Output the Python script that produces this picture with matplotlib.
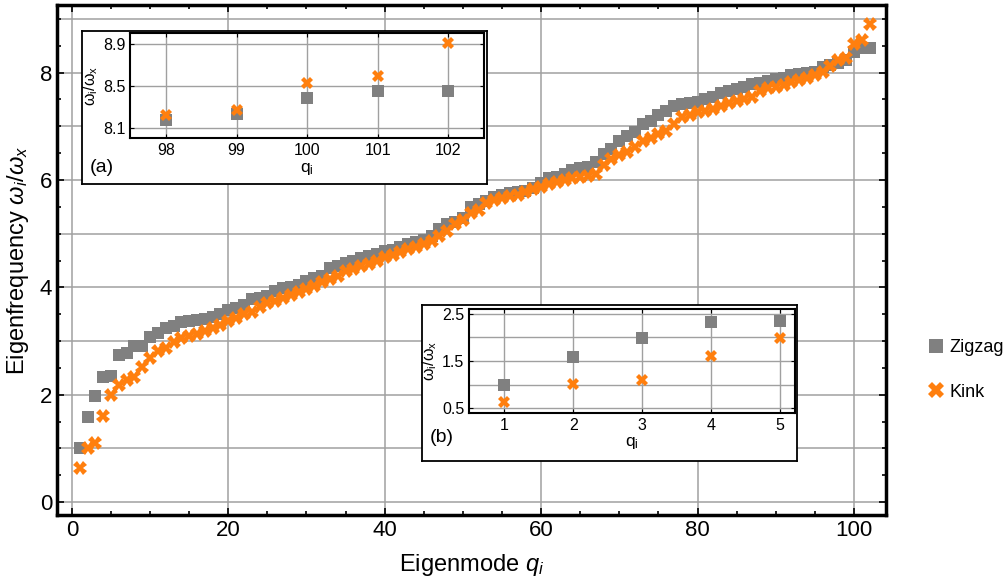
import matplotlib
matplotlib.use("Agg")
import matplotlib.pyplot as plt
from matplotlib.lines import Line2D
import numpy as np

plt.rcParams['font.family'] = ['Liberation Sans', 'DejaVu Sans']
plt.rcParams['mathtext.fontset'] = 'custom'
plt.rcParams['mathtext.rm'] = 'Liberation Sans'
plt.rcParams['mathtext.it'] = 'Liberation Sans:italic'

# eigenfrequencies (omega_i / omega_x), modes 1..102
zigzag = [1.00, 1.59, 1.98, 2.33, 2.35, 2.74, 2.77, 2.90, 2.91, 3.08,
          3.15, 3.24, 3.28, 3.36, 3.38, 3.40, 3.42, 3.45, 3.50, 3.58,
          3.62, 3.68, 3.78, 3.80, 3.84, 3.94, 3.98, 4.00, 4.05, 4.12,
          4.18, 4.22, 4.36, 4.40, 4.45, 4.50, 4.55, 4.58, 4.62, 4.67,
          4.70, 4.75, 4.80, 4.85, 4.88, 4.95, 5.08, 5.18, 5.22, 5.30,
          5.50, 5.56, 5.60, 5.68, 5.72, 5.75, 5.78, 5.80, 5.85, 5.95,
          6.03, 6.06, 6.12, 6.18, 6.22, 6.25, 6.33, 6.48, 6.58, 6.72,
          6.82, 6.90, 7.05, 7.10, 7.22, 7.28, 7.38, 7.42, 7.44, 7.46,
          7.50, 7.55, 7.62, 7.66, 7.70, 7.74, 7.78, 7.80, 7.84, 7.88,
          7.90, 7.95, 7.97, 7.99, 8.02, 8.10, 8.14, 8.18, 8.24, 8.39,
          8.45, 8.45]
kink = [0.64, 1.01, 1.10, 1.61, 1.99, 2.18, 2.28, 2.33, 2.52, 2.68,
        2.82, 2.87, 2.98, 3.05, 3.10, 3.14, 3.18, 3.24, 3.30, 3.38,
        3.43, 3.50, 3.55, 3.63, 3.70, 3.74, 3.80, 3.86, 3.92, 3.97,
        4.03, 4.10, 4.16, 4.22, 4.30, 4.35, 4.40, 4.43, 4.50, 4.56,
        4.60, 4.65, 4.72, 4.76, 4.80, 4.86, 4.95, 5.05, 5.18, 5.25,
        5.38, 5.45, 5.58, 5.62, 5.66, 5.70, 5.72, 5.78, 5.83, 5.87,
        5.92, 5.96, 6.00, 6.03, 6.06, 6.08, 6.12, 6.28, 6.40, 6.47,
        6.52, 6.62, 6.72, 6.78, 6.85, 6.92, 7.05, 7.18, 7.22, 7.27,
        7.29, 7.32, 7.38, 7.44, 7.48, 7.50, 7.55, 7.65, 7.71, 7.74,
        7.77, 7.82, 7.86, 7.90, 7.96, 8.02, 8.12, 8.23, 8.27, 8.53,
        8.60, 8.91]
modes = np.arange(1, len(zigzag) + 1)

GRAY = '#808080'
ORANGE = '#ff7f0e'
GRID = '#a0a0a0'

fig = plt.figure(figsize=(10.04, 5.85), dpi=100)

# main panel
ax = fig.add_axes([57/1004, 1-515/585, 829/1004, 510/585])
ax.plot(modes, zigzag, 's', color=GRAY, ms=8.5, mew=0, zorder=3)
ax.plot(modes, kink, 'X', color=ORANGE, ms=9.5, mew=0, zorder=4)
ax.set_xlim(-1.9, 104.1)
ax.set_ylim(-0.24, 9.26)
ax.set_xticks([0, 20, 40, 60, 80, 100])
ax.set_xticks(np.arange(0, 105, 5), minor=True)
ax.set_yticks([0, 2, 4, 6, 8])
ax.set_yticks(np.arange(0, 9.5, 0.5), minor=True)
ax.set_axisbelow(True)
for v in range(0, 10):
    ax.axhline(v, color=GRID, lw=1.1, zorder=0)
for v in range(0, 101, 20):
    ax.axvline(v, color=GRID, lw=1.1, zorder=0)
ax.tick_params(which='both', direction='in', top=True, right=True, labelsize=16, width=1.2)
ax.tick_params(which='major', length=5)
ax.tick_params(which='minor', length=3)
for s in ax.spines.values():
    s.set_linewidth(2.5)
ax.set_xlabel('Eigenmode $q_i$', fontsize=17, labelpad=8)
ax.set_ylabel('Eigenfrequency $\\omega_i/\\omega_x$', fontsize=17, labelpad=6)

handles = [Line2D([], [], ls='', marker='s', color=GRAY, ms=10, mew=0),
           Line2D([], [], ls='', marker='X', color=ORANGE, ms=11, mew=0)]
fig.legend(handles, ['Zigzag', 'Kink'], loc='center left',
           bbox_to_anchor=(926/1004, 1-370/585), frameon=False,
           borderpad=0, borderaxespad=0,
           fontsize=13, labelspacing=1.5, handletextpad=0.2, handlelength=1.1)


def inset(box, inner, lo, hi, xlim, ylim, xt, yt, ygrid, tag, tagpos):
    bg = fig.add_axes(box)
    bg.set_xticks([])
    bg.set_yticks([])
    bg.set_facecolor('white')
    for s in bg.spines.values():
        s.set_linewidth(1.3)
    a = fig.add_axes(inner)
    q = modes[lo:hi]
    a.plot(q, zigzag[lo:hi], 's', color=GRAY, ms=9, mew=0, zorder=3)
    a.plot(q, kink[lo:hi], 'X', color=ORANGE, ms=9, mew=0, zorder=4)
    a.set_xlim(*xlim)
    a.set_ylim(*ylim)
    a.set_xticks(xt)
    a.set_yticks(yt)
    for v in xt:
        a.axvline(v, color=GRID, lw=1.0, zorder=0)
    for v in ygrid:
        a.axhline(v, color=GRID, lw=1.0, zorder=0)
    a.tick_params(direction='in', top=True, right=True, length=3, labelsize=11.5)
    for s in a.spines.values():
        s.set_linewidth(1.5)
    a.set_xlabel('$\\mathregular{q_i}$', fontsize=12.5, labelpad=2)
    a.set_ylabel('$\\mathregular{\\omega_i/\\omega_x}$', fontsize=11.5, labelpad=2)
    bg.text(tagpos[0], tagpos[1], tag, transform=bg.transAxes, fontsize=14,
            ha='left', va='center')
    return a


inset([82/1004, 1-184/585, 405/1004, 153/585],
      [130/1004, 1-138.3/585, 354.3/1004, 105/585],
      97, 102, (97.49, 102.51), (8.005, 9.0),
      [98, 99, 100, 101, 102], [8.1, 8.5, 8.9], [8.1, 8.5, 8.9],
      '(a)', (0.02, 0.11))

inset([422/1004, 1-461/585, 375/1004, 156/585],
      [469.3/1004, 1-412.7/585, 326/1004, 103.4/585],
      0, 5, (0.49, 5.22), (0.41, 2.59),
      [1, 2, 3, 4, 5], [0.5, 1.5, 2.5], [0.5, 1.0, 1.5, 2.0, 2.5],
      '(b)', (0.02, 0.15))

fig.savefig('out.png', dpi=100)
